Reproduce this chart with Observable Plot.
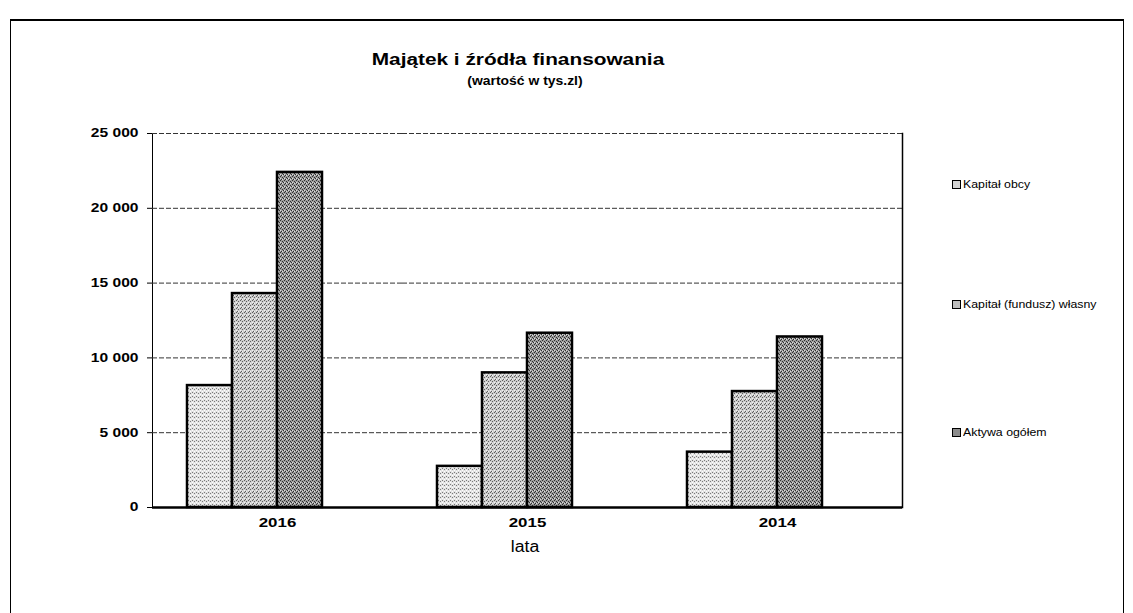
<!DOCTYPE html>
<html>
<head>
<meta charset="utf-8">
<script src="https://cdn.jsdelivr.net/npm/d3@7"></script>
<script src="https://cdn.jsdelivr.net/npm/@observablehq/plot@0.6"></script>
<style>
  html, body { margin: 0; padding: 0; background: #fff; }
  #wrap { position: relative; width: 1133px; height: 613px; overflow: hidden; font-family: "Liberation Sans", Arial, sans-serif; }
  #frame { position: absolute; left: 10px; top: 19px; width: 1114px; height: 620px; border: 1px solid #000; border-top-width: 2px; box-sizing: border-box; }
  #title { position: absolute; left: 0; width: 1036px; top: 51px; text-align: center; font-weight: bold; font-size: 16px; color: #000; transform: scaleX(1.3); transform-origin: 518px 0; }
  #subtitle { position: absolute; left: 0; width: 1050px; top: 74px; text-align: center; font-weight: bold; font-size: 12px; color: #000; transform: scaleX(1.16); transform-origin: 525px 0; }
  #xlabel { position: absolute; left: 475px; width: 100px; top: 538px; text-align: center; font-size: 16px; color: #000; transform: scaleX(1.1); }
  .leg { position: absolute; left: 952px; font-size: 11px; color: #000; display: flex; align-items: center; white-space: nowrap; }
  .leg span.t { display: inline-block; transform: scaleX(1.12); transform-origin: 0 50%; }
  .sw { display: inline-block; width: 7px; height: 7px; border: 1.5px solid #000; margin-right: 2px; }
  #chart { position: absolute; left: 0; top: 0; }
</style>
</head>
<body>
<div id="wrap">
  <div id="frame"></div>
  <div id="chart"></div>
  <div id="title">Majątek i źródła finansowania</div>
  <div id="subtitle">(wartość w tys.zl)</div>
  <div id="xlabel">lata</div>
  <div id="legend"></div>
</div>
<script>
const years = ["2016", "2015", "2014"];
const seriesNames = ["Kapitał obcy", "Kapitał (fundusz) własny", "Aktywa ogółem"];
const kapitalObcy = [8150, 2750, 3700];
const kapitalWlasny = [14300, 9000, 7750];
const aktywaOgolem = [22400, 11650, 11400];
const yTicks = [0, 5000, 10000, 15000, 20000, 25000];

// halftone-like textures (base colour, dark dots, light dots) for each series
const textures = [
  {id: "pat0", base: "#e2e2e2", dark: "#7a7a7a", light: "#ffffff", avg: "#d4d4d4"},
  {id: "pat1", base: "#cdcdcd", dark: "#5e5e5e", light: "#f4f4f4", avg: "#bdbdbd"},
  {id: "pat2", base: "#9c9c9c", dark: "#2e2e2e", light: "#dcdcdc", avg: "#8c8c8c"}
];

const seriesValues = [kapitalObcy, kapitalWlasny, aktywaOgolem];
const data = [];
years.forEach((yr, i) => {
  seriesNames.forEach((s, j) => data.push({year: yr, series: s, value: seriesValues[j][i]}));
});

const fmt = v => d3.format(",")(v).replace(/,/g, " ");

function defsMark() {
  const defs = d3.create("svg:defs");
  const darkDots = [[0, 0], [2, 1], [1, 3], [3, 2]];
  const lightDots = [[2, 3], [0, 2]];
  textures.forEach((t, i) => {
    const p = defs.append("pattern").attr("id", t.id).attr("patternUnits", "userSpaceOnUse")
      .attr("width", 4).attr("height", 4);
    p.append("rect").attr("width", 4).attr("height", 4).attr("fill", t.base);
    darkDots.slice(0, 2 + i).forEach(([x, y]) =>
      p.append("rect").attr("x", x).attr("y", y).attr("width", 1).attr("height", 1).attr("fill", t.dark));
    lightDots.forEach(([x, y]) =>
      p.append("rect").attr("x", x).attr("y", y).attr("width", 1).attr("height", 1).attr("fill", t.light));
  });
  return defs.node();
}

const chart = Plot.plot({
  width: 1133,
  height: 613,
  marginLeft: 152,
  marginRight: 231,
  marginTop: 133,
  marginBottom: 106,
  style: {fontFamily: "'Liberation Sans', Arial, sans-serif", fontSize: "12px", color: "#000", background: "transparent", overflow: "visible"},
  fx: {domain: years, padding: 0, label: null, axis: "bottom", tickSize: 0, tickPadding: 10},
  x: {domain: [...seriesNames, ""], paddingInner: 0, paddingOuter: 0.76, axis: null},
  y: {domain: [0, 25000], ticks: yTicks, tickFormat: fmt, label: null, line: true, tickSize: 5, tickPadding: 9},
  color: {domain: seriesNames, range: textures.map(t => `url(#${t.id})`)},
  marks: [
    defsMark,
    Plot.ruleY(yTicks.filter(d => d > 0), {stroke: "#333", strokeWidth: 1, strokeDasharray: "5,2"}),
    Plot.frame({anchor: "right", facetAnchor: "right", stroke: "#000", strokeWidth: 1.5}),
    Plot.barY(data, {fx: "year", x: "series", y: "value", fill: "series", stroke: "#000", strokeWidth: 2.5}),
    Plot.ruleY([0], {stroke: "#000", strokeWidth: 2.5})
  ]
});

// widen the tick labels horizontally (the reference lettering is stretched)
function stretch(sel, k, extra) {
  chart.querySelectorAll(sel).forEach(t => {
    const tr = t.getAttribute("transform") || "";
    t.setAttribute("transform", tr + ` scale(${k},1)`);
    t.setAttribute("font-weight", "bold");
    if (extra) for (const [a, v] of Object.entries(extra)) t.setAttribute(a, v);
  });
}
stretch("g[aria-label='y-axis tick label'] text", 1.3);
stretch("g[aria-label='fx-axis tick label'] text", 1.3, {"font-size": "13px"});
document.getElementById("chart").appendChild(chart);

const legTops = [178, 298, 426];
const legend = document.getElementById("legend");
seriesNames.forEach((s, i) => {
  const d = document.createElement("div");
  d.className = "leg";
  d.style.top = legTops[i] + "px";
  d.innerHTML = `<span class="sw" style="background:${textures[i].avg}"></span><span class="t">${s}</span>`;
  legend.appendChild(d);
});
</script>
</body>
</html>
